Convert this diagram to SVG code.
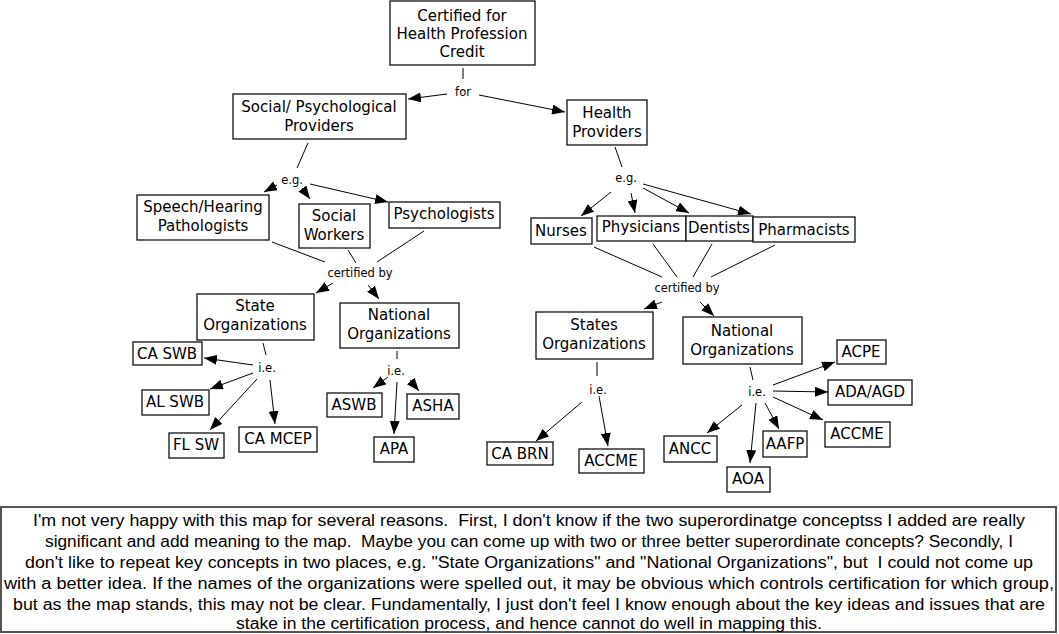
<svg xmlns="http://www.w3.org/2000/svg" width="1059" height="634" viewBox="0 0 1059 634">
<style>
.n rect{fill:#fff;stroke:#111;stroke-width:1.3}
.n text{font-family:"DejaVu Sans",sans-serif;font-size:15px;fill:#000;text-anchor:middle}
.lbl{font-family:"DejaVu Sans",sans-serif;font-size:11.5px;fill:#000;text-anchor:middle}
#connectors line{stroke:#000;stroke-width:1}
#connectors line.a{marker-end:url(#ah)}
.note rect{fill:#fff;stroke:#555;stroke-width:2}
.note text{font-family:"Liberation Sans",sans-serif;font-size:16px;fill:#000;text-anchor:middle}
</style>
<defs>
<marker id="ah" markerUnits="userSpaceOnUse" markerWidth="13" markerHeight="10" refX="13" refY="5" orient="auto">
<path d="M0,0 L13,5 L0,10 z" fill="#000"/>
</marker>
</defs>
<rect width="1059" height="634" fill="#fff"/>

<g id="connectors">
<line x1="463" y1="68" x2="463" y2="79"/>
<line class="a" x1="447" y1="94" x2="408" y2="99"/>
<line class="a" x1="479" y1="95" x2="565" y2="112"/>
<line x1="308" y1="143" x2="297" y2="168"/>
<line class="a" x1="277" y1="185" x2="264" y2="192"/>
<line class="a" x1="302" y1="188" x2="310" y2="199"/>
<line class="a" x1="310" y1="184" x2="388" y2="202"/>
<line x1="272" y1="242" x2="325" y2="262"/>
<line x1="348" y1="250" x2="356" y2="263"/>
<line x1="424" y1="231" x2="377" y2="262"/>
<line class="a" x1="333" y1="283" x2="316" y2="293"/>
<line class="a" x1="368" y1="285" x2="379" y2="299"/>
<line x1="263" y1="343" x2="266" y2="355"/>
<line class="a" x1="253" y1="365" x2="204" y2="358"/>
<line class="a" x1="253" y1="373" x2="210" y2="389"/>
<line class="a" x1="257" y1="379" x2="210" y2="430"/>
<line class="a" x1="270" y1="380" x2="275" y2="424"/>
<line x1="397" y1="351" x2="397" y2="359"/>
<line class="a" x1="388" y1="377" x2="373" y2="388"/>
<line class="a" x1="410" y1="380" x2="419" y2="391"/>
<line class="a" x1="397" y1="382" x2="394" y2="434"/>
<line x1="615" y1="147" x2="622" y2="167"/>
<line class="a" x1="611" y1="192" x2="581" y2="216"/>
<line class="a" x1="631" y1="193" x2="635" y2="213"/>
<line class="a" x1="643" y1="188" x2="689" y2="213"/>
<line class="a" x1="643" y1="184" x2="751" y2="214"/>
<line x1="594" y1="247" x2="662" y2="277"/>
<line x1="653" y1="244" x2="677" y2="277"/>
<line x1="712" y1="244" x2="693" y2="277"/>
<line x1="775" y1="245" x2="711" y2="277"/>
<line class="a" x1="662" y1="302" x2="644" y2="309"/>
<line class="a" x1="700" y1="302" x2="714" y2="316"/>
<line x1="597" y1="362" x2="597" y2="376"/>
<line class="a" x1="582" y1="402" x2="536" y2="441"/>
<line class="a" x1="599" y1="396" x2="608" y2="446"/>
<line x1="750" y1="367" x2="753" y2="380"/>
<line class="a" x1="773" y1="385" x2="835" y2="362"/>
<line class="a" x1="773" y1="391" x2="828" y2="392"/>
<line class="a" x1="773" y1="397" x2="823" y2="420"/>
<line class="a" x1="765" y1="403" x2="779" y2="429"/>
<line class="a" x1="742" y1="405" x2="707" y2="433"/>
<line class="a" x1="756" y1="403" x2="750" y2="463"/>
</g>

<g id="link-labels">
<text class="lbl" x="463" y="96">for</text>
<text class="lbl" x="292" y="184">e.g.</text>
<text class="lbl" x="360" y="277">certified by</text>
<text class="lbl" x="267" y="372">i.e.</text>
<text class="lbl" x="396" y="375">i.e.</text>
<text class="lbl" x="626" y="182">e.g.</text>
<text class="lbl" x="687" y="292">certified by</text>
<text class="lbl" x="598" y="394">i.e.</text>
<text class="lbl" x="757" y="396">i.e.</text>
</g>

<g id="root" class="n"><rect x="390" y="1" width="145" height="64"/><text x="462" y="21">Certified for</text><text x="462" y="39">Health Profession</text><text x="462" y="57">Credit</text></g>
<g id="social-psych" class="n"><rect x="233" y="94" width="173" height="45"/><text x="319" y="112">Social/ Psychological</text><text x="319" y="131">Providers</text></g>
<g id="health-providers" class="n"><rect x="567" y="100" width="80" height="45"/><text x="607" y="118">Health</text><text x="607" y="137">Providers</text></g>
<g id="speech" class="n"><rect x="137" y="195" width="132" height="45"/><text x="203" y="212">Speech/Hearing</text><text x="203" y="231">Pathologists</text></g>
<g id="social-workers" class="n"><rect x="299" y="204" width="71" height="44"/><text x="334" y="221">Social</text><text x="334" y="240">Workers</text></g>
<g id="psychologists" class="n"><rect x="389" y="202" width="111" height="26"/><text x="444" y="219">Psychologists</text></g>
<g id="state-org" class="n"><rect x="197" y="294" width="117" height="46"/><text x="255" y="311">State</text><text x="255" y="330">Organizations</text></g>
<g id="national-org-l" class="n"><rect x="340" y="303" width="119" height="45"/><text x="399" y="320">National</text><text x="399" y="339">Organizations</text></g>
<g id="ca-swb" class="n"><rect x="133" y="342" width="69" height="23"/><text x="167" y="359">CA SWB</text></g>
<g id="al-swb" class="n"><rect x="142" y="390" width="67" height="25"/><text x="175" y="407">AL SWB</text></g>
<g id="fl-sw" class="n"><rect x="169" y="433" width="55" height="25"/><text x="196" y="450">FL SW</text></g>
<g id="ca-mcep" class="n"><rect x="239" y="427" width="78" height="25"/><text x="278" y="444">CA MCEP</text></g>
<g id="aswb" class="n"><rect x="327" y="393" width="55" height="24"/><text x="354" y="410">ASWB</text></g>
<g id="asha" class="n"><rect x="407" y="394" width="52" height="25"/><text x="433" y="411">ASHA</text></g>
<g id="apa" class="n"><rect x="374" y="437" width="40" height="25"/><text x="394" y="454">APA</text></g>
<g id="nurses" class="n"><rect x="531" y="218" width="61" height="26"/><text x="561" y="236">Nurses</text></g>
<g id="physicians" class="n"><rect x="597" y="216" width="89" height="25"/><text x="641" y="232">Physicians</text></g>
<g id="dentists" class="n"><rect x="686" y="216" width="67" height="25"/><text x="719" y="233">Dentists</text></g>
<g id="pharmacists" class="n"><rect x="753" y="217" width="102" height="25"/><text x="804" y="235">Pharmacists</text></g>
<g id="states-org" class="n"><rect x="536" y="312" width="117" height="47"/><text x="594" y="330">States</text><text x="594" y="349">Organizations</text></g>
<g id="national-org-r" class="n"><rect x="683" y="317" width="119" height="47"/><text x="742" y="336">National</text><text x="742" y="355">Organizations</text></g>
<g id="ca-brn" class="n"><rect x="487" y="442" width="66" height="23"/><text x="520" y="459">CA BRN</text></g>
<g id="accme-l" class="n"><rect x="579" y="449" width="65" height="24"/><text x="611" y="466">ACCME</text></g>
<g id="acpe" class="n"><rect x="837" y="340" width="49" height="24"/><text x="861" y="357">ACPE</text></g>
<g id="ada-agd" class="n"><rect x="828" y="380" width="84" height="25"/><text x="870" y="397">ADA/AGD</text></g>
<g id="accme-r" class="n"><rect x="825" y="422" width="65" height="25"/><text x="857" y="439">ACCME</text></g>
<g id="aafp" class="n"><rect x="763" y="431" width="44" height="26"/><text x="785" y="449">AAFP</text></g>
<g id="ancc" class="n"><rect x="664" y="436" width="53" height="26"/><text x="690" y="454">ANCC</text></g>
<g id="aoa" class="n"><rect x="727" y="467" width="43" height="25"/><text x="748" y="484">AOA</text></g>

<g id="note" class="note">
<rect x="1" y="507" width="1055" height="125"/>
<text x="529" y="526" textLength="992" lengthAdjust="spacingAndGlyphs" xml:space="preserve">I'm not very happy with this map for several reasons.  First, I don't know if the two superordinatge conceptss I added are really</text>
<text x="529" y="547" textLength="968" lengthAdjust="spacingAndGlyphs" xml:space="preserve">significant and add meaning to the map.  Maybe you can come up with two or three better superordinate concepts? Secondly, I</text>
<text x="529" y="568" textLength="1008" lengthAdjust="spacingAndGlyphs" xml:space="preserve">don't like to repeat key concepts in two places, e.g. "State Organizations" and "National Organizations", but  I could not come up</text>
<text x="529" y="589" textLength="1050" lengthAdjust="spacingAndGlyphs">with a better idea. If the names of the organizations were spelled out, it may be obvious which controls certification for which group,</text>
<text x="529" y="610" textLength="1032" lengthAdjust="spacingAndGlyphs">but as the map stands, this may not be clear. Fundamentally, I just don't feel I know enough about the key ideas and issues that are</text>
<text x="529" y="629" textLength="586" lengthAdjust="spacingAndGlyphs">stake in the certification process, and hence cannot do well in mapping this.</text>
</g>
</svg>
